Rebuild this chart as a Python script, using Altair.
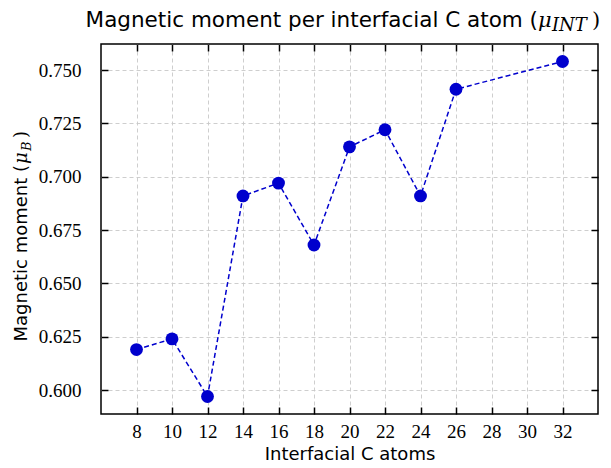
import altair as alt
import pandas as pd

# ---- data ----
atoms = [8, 10, 12, 14, 16, 18, 20, 22, 24, 26, 32]
moment = [0.619, 0.624, 0.597, 0.691, 0.697, 0.668, 0.714, 0.722, 0.691, 0.741, 0.754]
x_ticks = [8, 10, 12, 14, 16, 18, 20, 22, 24, 26, 28, 30, 32]
y_ticks = [0.600, 0.625, 0.650, 0.675, 0.700, 0.725, 0.750]
x_domain = [6, 34]
y_domain = [0.5888, 0.7622]

title_main = "Magnetic moment per interfacial C atom ("
title_mu = "μ"
title_sub = "INT"
title_close = ")"
ylab_main = "Magnetic moment ("
ylab_mu = "μ"
ylab_sub = "B"
ylab_close = ")"
xlab = "Interfacial C atoms"

W, H = 497, 370
BLUE = "#0000cd"
SERIF = "Liberation Serif"
TL = 7

df = pd.DataFrame({"atoms": atoms, "moment": moment})
one = pd.DataFrame({"k": [0]})

xs = alt.Scale(domain=x_domain, nice=False, zero=False)
ys = alt.Scale(domain=y_domain, nice=False, zero=False)

common = dict(ticks=True, tickSize=TL, tickColor="black", tickWidth=1.5, offset=-TL, domain=False)

x_bottom = alt.Axis(orient="bottom", values=x_ticks, labelFont=SERIF, labelFontSize=19,
                    labelColor="black", labelPadding=8, grid=True, gridDash=[4, 3],
                    gridColor="#c8c8c8", gridWidth=0.9, title=xlab, titleFont="DejaVu Sans",
                    titleFontSize=18, titleFontWeight="normal", titleColor="black",
                    titlePadding=4, **common)
y_left = alt.Axis(orient="left", values=y_ticks, labelFont=SERIF, labelFontSize=19,
                  labelColor="black", labelPadding=20, format=".3f", grid=True, gridDash=[4, 3],
                  gridColor="#c8c8c8", gridWidth=0.9, title=None, **common)
x_top = alt.Axis(orient="top", values=x_ticks, labels=False, grid=False, title=None, **common)
y_right = alt.Axis(orient="right", values=y_ticks, labels=False, grid=False, title=None, **common)

base = alt.Chart(df)
line = base.mark_line(color=BLUE, strokeDash=[5, 3], strokeWidth=1.5).encode(
    x=alt.X("atoms:Q", scale=xs, axis=x_bottom),
    y=alt.Y("moment:Q", scale=ys, axis=y_left),
)
pts = base.mark_circle(color=BLUE, size=165, opacity=1).encode(
    x=alt.X("atoms:Q", scale=xs, axis=x_top),
    y=alt.Y("moment:Q", scale=ys, axis=y_right),
)

def txt(s, x, y, font, size, align="left", angle=0, style="normal"):
    return alt.Chart(one).mark_text(
        text=s, font=font, fontSize=size, align=align, baseline="alphabetic",
        angle=angle, fontStyle=style, color="black"
    ).encode(x=alt.value(x), y=alt.value(y))

title_layers = [
    txt(title_main, 437, -17, "DejaVu Sans", 21.5, align="right"),
    txt(title_mu, 437, -17, "DejaVu Serif", 21, style="italic"),
    txt(title_sub, 451, -13, "DejaVu Serif", 18, style="italic"),
    txt(title_close, 491, -17, "DejaVu Serif", 21),
]
ylab_layers = [
    txt(ylab_main, -74, 121, "DejaVu Sans", 18, align="right", angle=270),
    txt(ylab_mu, -74, 120, "DejaVu Serif", 18, angle=270, style="italic"),
    txt(ylab_sub, -70, 107, "DejaVu Serif", 13, angle=270, style="italic"),
    txt(ylab_close, -74, 94, "DejaVu Serif", 18, angle=270),
]

chart = alt.layer(
    line, pts, *title_layers, *ylab_layers
).resolve_axis(x="independent", y="independent").properties(
    width=W, height=H,
    autosize=alt.AutoSizeParams(type="none"),
    padding={"left": 93, "top": 36, "right": 5, "bottom": 50},
    background="white",
).configure_view(stroke="black", strokeWidth=1.5)

chart.save("out.html", embed_options={"renderer": "svg", "actions": False})
